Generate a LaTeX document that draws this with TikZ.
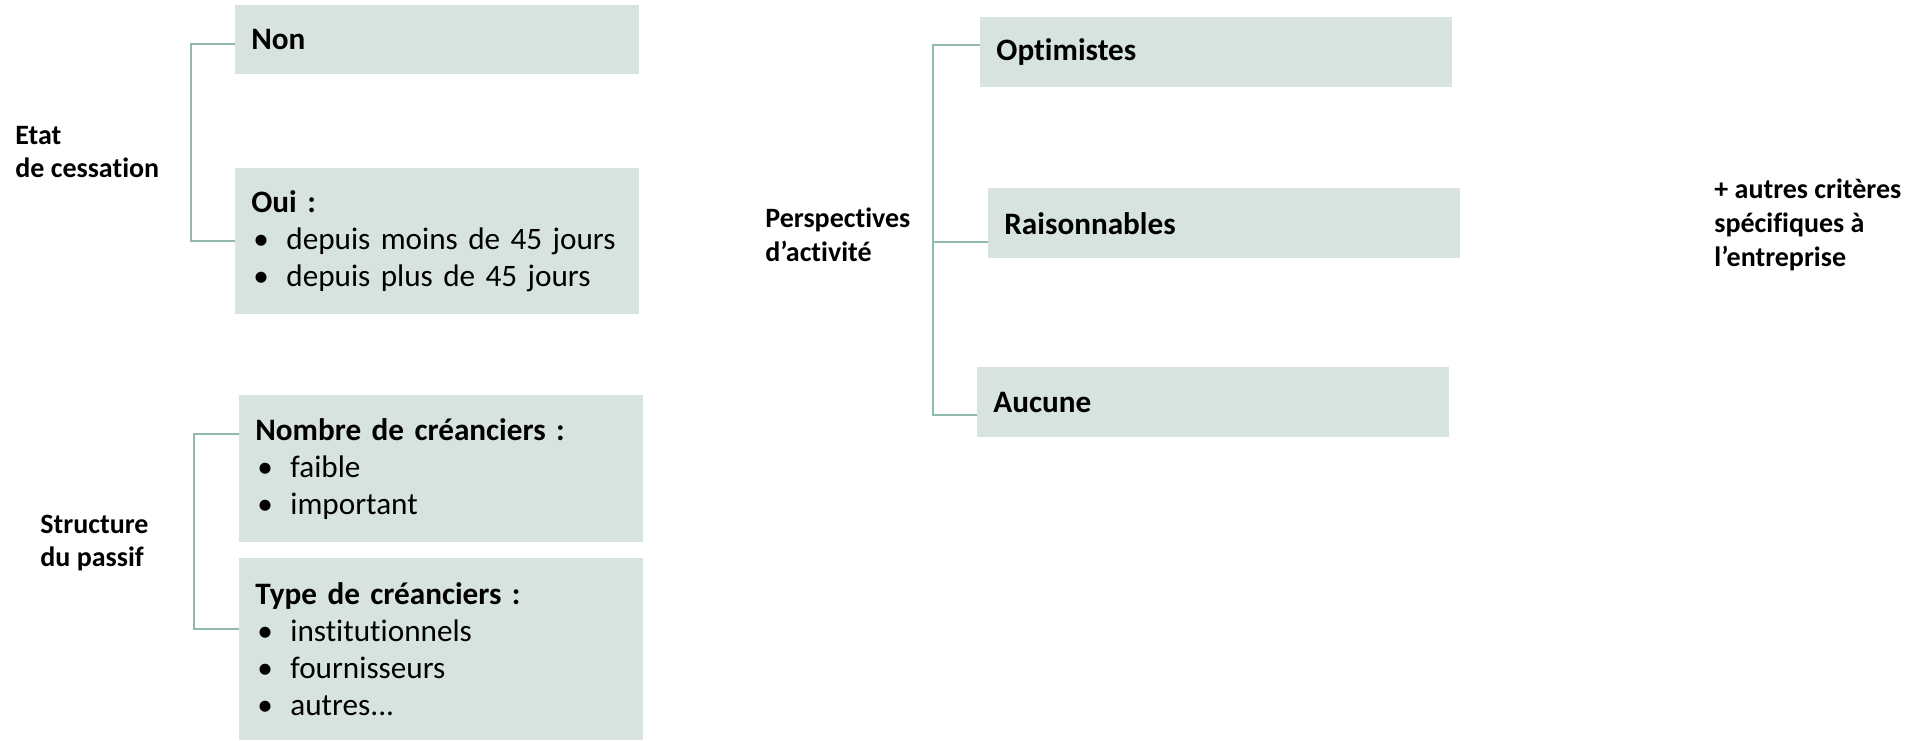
\documentclass[tikz,border=0pt]{standalone}
\usepackage{fontspec}
\setmainfont{Carlito}[Ligatures=NoCommon]
\usepackage{xcolor}
\usetikzlibrary{positioning}
\definecolor{boxfill}{RGB}{214,227,223}
\definecolor{busline}{RGB}{146,184,178}
\newcommand{\itm}[1]{\makebox[17.5pt][l]{\hspace{1pt}\textbullet}#1}
\tikzset{
  crit box/.style={
    rectangle, fill=boxfill, draw=none,
    inner xsep=8pt, inner ysep=0pt,
    text width=186pt, minimum height=#1,
    align=left, anchor=north west,
    font=\fontsize{15.6pt}{18.5pt}\selectfont
  },
  wide box/.style={
    crit box=#1, text width=220pt
  },
  side label/.style={
    anchor=west, inner sep=0pt, align=left,
    font=\fontsize{14pt}{16.8pt}\selectfont\bfseries
  },
  bus/.style={
    draw=busline, line width=1pt
  },
}

\begin{document}
\begin{tikzpicture}[x=0.5pt, y=-0.5pt]
  \useasboundingbox (0,0) rectangle (1923,740);

  % Etat de cessation
  \node[side label] (etat) at (15,152) {Etat\\de cessation};
  \node[crit box=34.5pt] (non) at (235,5) {\textbf{Non}};
  \node[crit box=73pt] (oui) at (235,168)
    {\textbf{Oui :}\\ \itm{depuis moins de 45 jours}\\ \itm{depuis plus de 45 jours}};
  \coordinate (etatbus) at (191,0);
  \draw[bus] ([yshift=-2.25pt]non.west) -| (etatbus |- oui.west) -- (oui.west);

  % Structure du passif
  \node[side label] (passif) at (40,543) {Structure\\du passif};
  \node[crit box=73.5pt] (nombre) at (239,395)
    {\textbf{Nombre de créanciers :}\\ \itm{faible}\\ \itm{important}};
  \node[crit box=91pt] (type) at (239,558)
    {\textbf{Type de créanciers :}\\ \itm{institutionnels}\\ \itm{fournisseurs}\\ \itm{autres...}};
  \coordinate (passifbus) at (194,0);
  \draw[bus] ([yshift=17.25pt]nombre.west) -| ([yshift=10pt]passifbus |- type.west)
    -- ([yshift=10pt]type.west);

  % Perspectives d'activite
  \node[side label] (persp) at (765,235) {Perspectives\\d’activité};
  \node[wide box=35pt] (optim) at (980,17) {\textbf{Optimistes}};
  \node[wide box=35pt] (raison) at (988,188) {\textbf{Raisonnables}};
  \node[wide box=35pt] (aucune) at (977,367) {\textbf{Aucune}};
  \coordinate (perspbus) at (933,0);
  \draw[bus] ([yshift=3.5pt]optim.west) -| ([yshift=-6.5pt]perspbus |- aucune.west)
    -- ([yshift=-6.5pt]aucune.west);
  \draw[bus] ([yshift=-9.25pt]perspbus |- raison.west) -- ([yshift=-9.25pt]raison.west);

  % Autres criteres
  \node[side label, font=\fontsize{14pt}{17pt}\selectfont\bfseries] (autres) at (1714,225)
    {+ autres critères\\spécifiques à\\l’entreprise};

\end{tikzpicture}
\end{document}
